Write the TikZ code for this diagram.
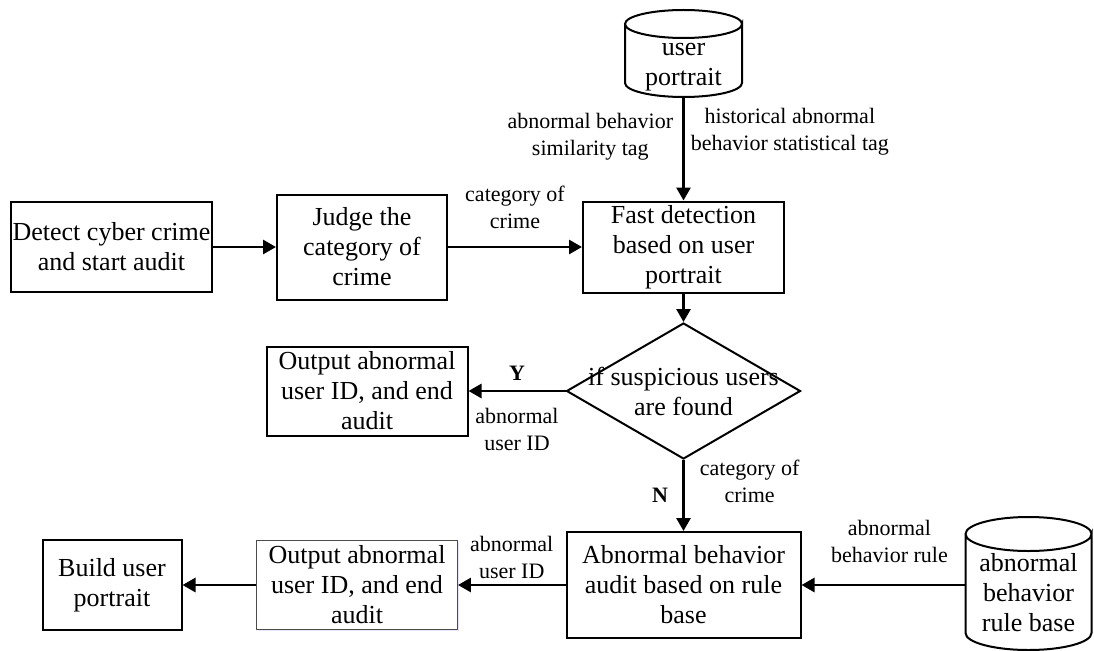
\documentclass[tikz,border=0pt]{standalone}
\usepackage{fontspec}
\setmainfont{Liberation Serif}
\usetikzlibrary{shapes.geometric, positioning, arrows.meta, shadows}
\newcommand{\boxfont}{\fontsize{26}{30}\selectfont}
\newcommand{\tagfont}{\fontsize{22}{27}\selectfont}
% text of a drum, pushed down below the top cap
\newcommand{\drumtext}[2]{\raisebox{-#1}[0pt][0pt]{\begin{tabular}{@{}c@{}}#2\end{tabular}}}
% outline of a drum round node #1, x radius #2, cap radius #3
\newcommand{\drum}[3]{%
  \draw [drumline] ([yshift=-#3pt]#1.north west) -- ([yshift=#3pt]#1.south west)
    arc[start angle=180, end angle=360, x radius=#2pt, y radius=#3pt]
    -- ([yshift=-#3pt]#1.north east)
    arc[start angle=0, end angle=-180, x radius=#2pt, y radius=#3pt]
    arc[start angle=180, end angle=0, x radius=#2pt, y radius=#3pt];}
\tikzset{
  process/.style={rectangle, minimum width=201pt, minimum height=90pt, inner sep=1pt, align=center, draw=black, line width=2pt, font=\boxfont},
  output/.style={process, fill=white, draw=black!70, line width=0.9pt, drop shadow={shadow xshift=1.5pt, shadow yshift=-1.5pt, fill=blue!25, opacity=0.4}},
  decision/.style={diamond, minimum width=234pt, minimum height=136pt, inner sep=0pt, draw=black, line width=2pt},
  store/.style={rectangle, inner sep=0pt, outer sep=0pt, font=\boxfont},
  drumline/.style={line width=2pt},
  tag/.style={align=center, font=\tagfont, inner sep=2pt},
  arrow/.style={line width=2.8pt, -{Triangle[length=13pt, width=14pt]}}
}
\begin{document}
\begin{tikzpicture}[x=1pt, y=-1pt, node distance=160pt]
  \useasboundingbox (0,0) rectangle (1094,650);
  \node (detect) [process] at (111.5,247) {Detect cyber crime\\and start audit};
  \node (judge) [process, right of=detect, xshift=90.5pt, minimum width=170pt, minimum height=105pt] {Judge the\\category of\\crime};
  \node (fast) [process, right of=judge, xshift=161.5pt, minimum height=91pt] {Fast detection\\based on user\\portrait};
  \node (portrait) [store, above of=fast, yshift=33.5pt, minimum width=117pt, minimum height=87pt] {\drumtext{17pt}{user\\portrait}};
  \node (check) [decision, below of=fast, yshift=16pt, label={[font=\boxfont, align=center]center:if suspicious users\\are found}] {};
  \node (found) [process, left of=check, xshift=-156.5pt, minimum height=89pt] {Output abnormal\\user ID, and end\\audit};
  \node (rule) [process, below of=check, yshift=-34pt, minimum width=234pt, minimum height=106pt] {Abnormal behavior\\audit based on rule\\base};
  % rule base sits at the right edge
  \node (rulebase) [store, right of=rule, xshift=185pt, yshift=1.5pt, minimum width=126pt, minimum height=133pt] {\drumtext{18pt}{abnormal\\behavior\\rule base}};
  \node (result) [output, left of=rule, xshift=-166.5pt, minimum height=89pt] {Output abnormal\\user ID, and end\\audit};
  \node (build) [process, left of=result, xshift=-85pt, minimum width=139pt] {Build user\\portrait};
  \drum{portrait}{58.5}{14}
  \drum{rulebase}{63}{17}

  \draw [arrow] (detect) -- (judge);
  \draw [arrow] (judge) -- node[tag, above=15pt] {category of\\crime} (fast);
  \draw [arrow] (portrait) -- node[tag, left=7pt, pos=0.38] {abnormal behavior\\similarity tag} node[tag, right=4pt, pos=0.34] {historical abnormal\\behavior statistical tag} (fast);
  \draw [arrow] (fast) -- (check);
  \draw [arrow] (check) -- node[tag, above=7pt, font=\tagfont\bfseries] {Y} node[tag, below=14pt] {abnormal\\user ID} (found);
  \draw [arrow] (check) -- node[tag, left=12pt, font=\tagfont\bfseries] {N} node[tag, right=13pt, pos=0.3] {category of\\crime} (rule);
  % horizontal feed from the rule base
  \draw [arrow] (rule.east -| rulebase.west) -- node[tag, above=19pt, xshift=6pt] {abnormal\\behavior rule} (rule);
  \draw [arrow] (rule) -- node[tag, above=3pt] {abnormal\\user ID} (result);
  \draw [arrow] (result) -- (build);
\end{tikzpicture}
\end{document}
